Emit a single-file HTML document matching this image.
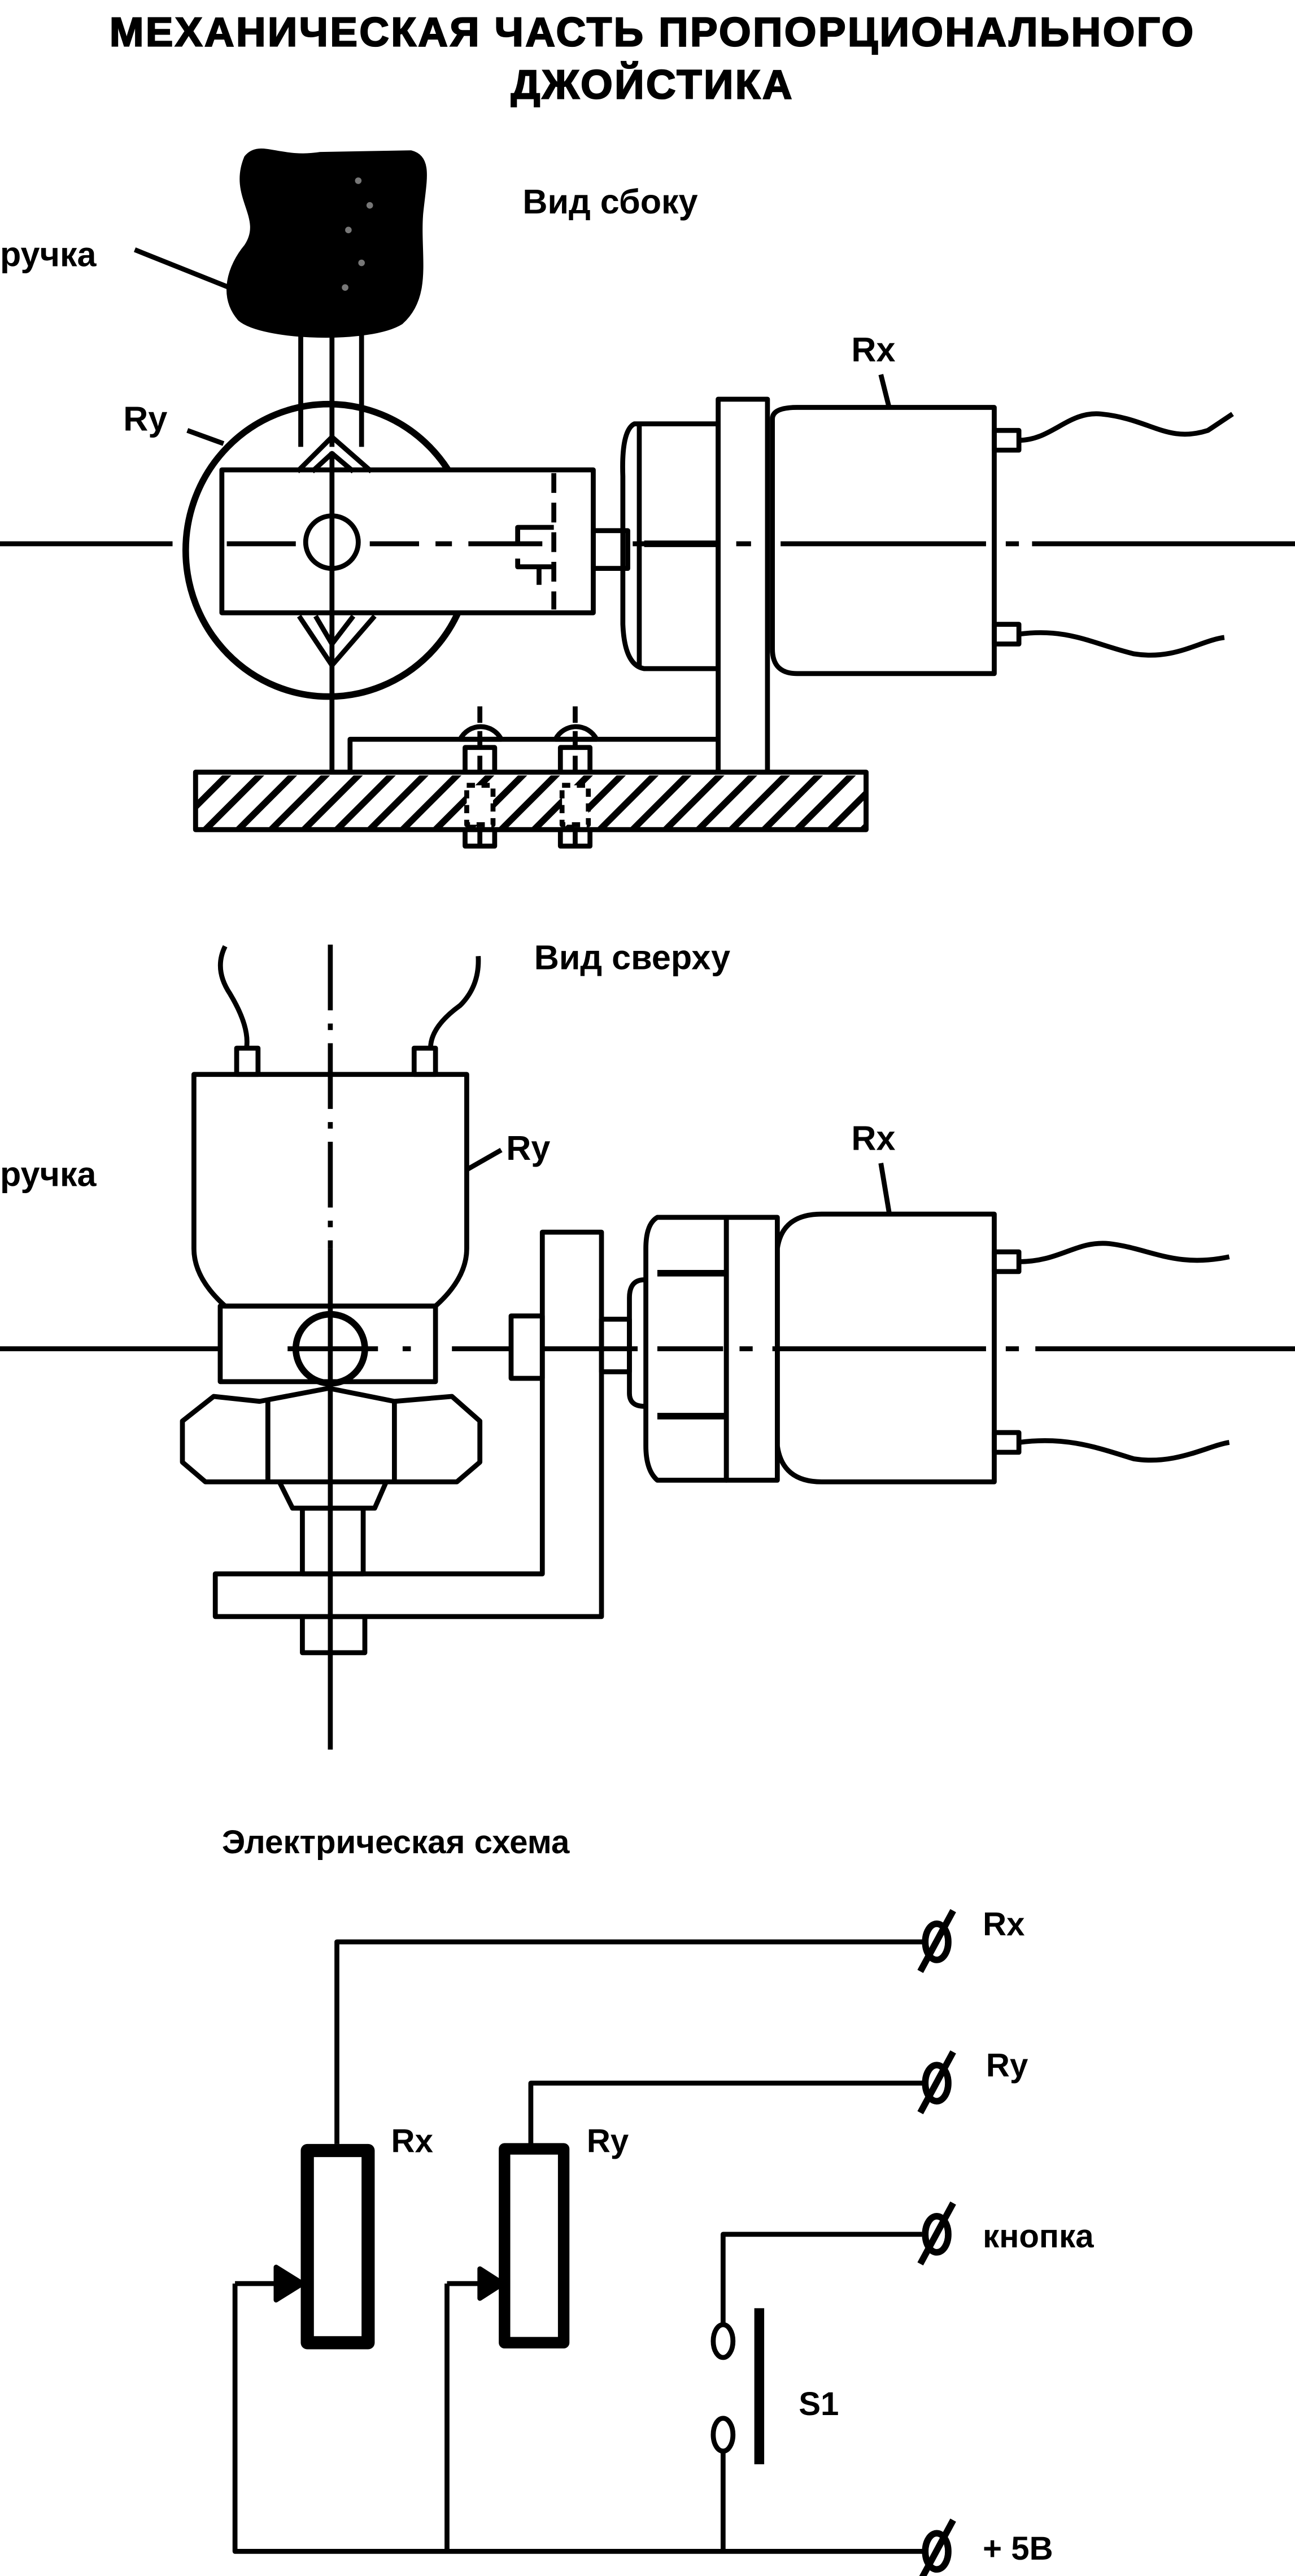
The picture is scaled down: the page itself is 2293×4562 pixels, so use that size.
<!DOCTYPE html>
<html><head><meta charset="utf-8"><style>
html,body{margin:0;padding:0;background:#fff;}
svg{display:block;}
text{font-family:"Liberation Sans","DejaVu Sans",sans-serif;font-weight:bold;fill:#000;}
</style></head><body>
<svg width="2293" height="4562" viewBox="0 0 788 1568" preserveAspectRatio="none" xmlns="http://www.w3.org/2000/svg">
<defs>
<clipPath id="base"><rect x="120" y="472" width="406" height="32"/></clipPath>
</defs>
<rect width="788" height="1568" fill="#fff"/>
<text x="397" y="28" font-size="25" letter-spacing="1.2" text-anchor="middle" stroke="#000" stroke-width="0.8">МЕХАНИЧЕСКАЯ ЧАСТЬ ПРОПОРЦИОНАЛЬНОГО</text>
<text x="397" y="60" font-size="25" letter-spacing="1.2" text-anchor="middle" stroke="#000" stroke-width="0.8">ДЖОЙСТИКА</text>

<g stroke="#000" stroke-width="3" fill="none" stroke-linejoin="round">
<!-- SIDE VIEW -->
<text x="318" y="130" font-size="21" stroke="none">Вид сбоку</text>
<text x="0" y="162" font-size="21" stroke="none">ручка</text>
<line x1="82" y1="152" x2="142" y2="176"/>
<path d="M150,96 C158,86 170,98 195,94 L250,93 C262,96 258,110 256,130 C254,155 262,180 244,196 C225,208 160,206 146,194 C134,180 140,162 150,150 C162,132 140,120 150,96 Z" fill="#000"/>
<circle cx="218" cy="110" r="2" fill="#777" stroke="none"/><circle cx="225" cy="125" r="2" fill="#777" stroke="none"/><circle cx="212" cy="140" r="2" fill="#777" stroke="none"/><circle cx="220" cy="160" r="2" fill="#777" stroke="none"/><circle cx="210" cy="175" r="2" fill="#777" stroke="none"/>
<line x1="183" y1="200" x2="183" y2="272"/><line x1="220" y1="200" x2="220" y2="272"/><line x1="202" y1="200" x2="202" y2="272"/>
<text x="75" y="262" font-size="21" stroke="none">Ry</text>
<line x1="114" y1="262" x2="136" y2="270"/>
<ellipse cx="200" cy="335" rx="87" ry="89" stroke-width="4"/>
<rect x="135" y="286" width="226" height="87" fill="#fff"/>
<line x1="337" y1="288" x2="337" y2="371" stroke-dasharray="12 6"/>
<path d="M181,287 L202,266 L226,287 M190,287 L202,276 L215,287"/>
<path d="M182,375 L202,405 L228,375 M192,375 L202,392 L215,375"/>
<line x1="202" y1="275" x2="202" y2="470"/>
<circle cx="202" cy="330" r="16"/>
<path d="M337,321 L315,321 L315,331 M337,345 L315,345 L315,340 M328,345 L328,356"/>
<rect x="361" y="323" width="21" height="23"/>
<path d="M386,258 Q378,262 379,290 L379,380 Q380,405 392,407 L437,407 L437,258 Z"/>
<path d="M389,258 L389,407"/>
<line x1="392" y1="331" x2="437" y2="331" stroke-width="4"/>
<rect x="437" y="243" width="30" height="227"/>
<path d="M470,255 Q470,248 485,248 L605,248 L605,410 L485,410 Q470,410 470,395 Z"/>
<text x="518" y="220" font-size="21" stroke="none">Rx</text>
<line x1="536" y1="228" x2="541" y2="248"/>
<rect x="605" y="262" width="15" height="12"/><rect x="605" y="380" width="15" height="12"/>
<path d="M620,268 C640,268 650,250 670,252 C700,255 710,270 735,262 L750,252"/>
<path d="M620,386 C650,382 665,392 690,398 C715,402 730,390 745,388"/>
<path d="M0,331 L105,331 M138,331 L180,331 M225,331 L255,331 M265,331 L275,331 M285,331 L330,331 M385,331 L437,331 M448,331 L457,331 M475,331 L600,331 M612,331 L620,331 M628,331 L788,331"/>
<path d="M213,470 L213,450 L437,450"/>
<path d="M280,450 A14,14 0 0 1 305,450 Z"/><path d="M338,450 A14,14 0 0 1 363,450 Z"/>
<line x1="292" y1="430" x2="292" y2="515" stroke-dasharray="10 5"/>
<line x1="350" y1="430" x2="350" y2="515" stroke-dasharray="10 5"/>
<rect x="283" y="455" width="18" height="60"/><rect x="341" y="455" width="18" height="60"/>
<rect x="119" y="470" width="408" height="35" fill="#fff"/>
<g clip-path="url(#base)" stroke-width="4">
<path d="M100,510 L145,465 M120,510 L165,465 M140,510 L185,465 M160,510 L205,465 M180,510 L225,465 M200,510 L245,465 M220,510 L265,465 M240,510 L285,465 M260,510 L305,465 M280,510 L325,465 M300,510 L345,465 M320,510 L365,465 M340,510 L385,465 M360,510 L405,465 M380,510 L425,465 M400,510 L445,465 M420,510 L465,465 M440,510 L485,465 M460,510 L505,465 M480,510 L525,465 M500,510 L545,465 M520,510 L565,465"/>
</g>
<rect x="119" y="470" width="408" height="35"/>
<rect x="284" y="478" width="16" height="24" fill="#fff" stroke-dasharray="5 4"/><rect x="342" y="478" width="16" height="24" fill="#fff" stroke-dasharray="5 4"/>

<!-- TOP VIEW -->
<text x="325" y="590" font-size="21" stroke="none">Вид сверху</text>
<text x="0" y="722" font-size="21" stroke="none">ручка</text>
<path d="M137,576 Q130,590 140,605 Q152,625 150,638"/>
<path d="M291,582 Q292,600 280,612 Q262,625 262,638"/>
<rect x="144" y="638" width="13" height="16"/><rect x="252" y="638" width="13" height="16"/>
<path d="M118,654 L284,654 L284,760 Q284,778 265,795 L137,795 Q118,778 118,760 Z"/>
<rect x="134" y="795" width="131" height="46"/>
<path d="M111,865 L130,850 L158,853 L200,845 L240,853 L275,850 L292,865 L292,890 L278,902 L125,902 L111,890 Z"/>
<line x1="163" y1="853" x2="163" y2="902"/><line x1="240" y1="853" x2="240" y2="902"/>
<path d="M170,902 L178,918 L228,918 L235,902"/>
<rect x="184" y="918" width="37" height="40"/>
<path d="M131,958 L330,958 L330,750 L366,750 L366,984 L131,984 Z"/>
<rect x="184" y="984" width="38" height="22"/>
<line x1="201" y1="575" x2="201" y2="760" stroke-dasharray="40 8 4 8"/>
<line x1="201" y1="760" x2="201" y2="1065"/>
<circle cx="201" cy="821" r="21" stroke-width="4"/>
<rect x="311" y="801" width="19" height="38"/><rect x="366" y="803" width="17" height="32"/>
<path d="M392,779 Q383,779 383,790 L383,848 Q383,856 392,856"/>
<path d="M400,741 L442,741 L442,901 L400,901 Q393,895 393,880 L393,760 Q393,745 400,741 Z"/>
<line x1="400" y1="775" x2="442" y2="775" stroke-width="4"/><line x1="400" y1="862" x2="442" y2="862" stroke-width="4"/>
<rect x="442" y="741" width="31" height="160"/>
<path d="M473,760 Q476,739 500,739 L605,739 L605,902 L500,902 Q476,902 473,880 Z"/>
<rect x="605" y="762" width="15" height="12"/><rect x="605" y="872" width="15" height="12"/>
<path d="M620,768 C645,768 655,755 675,757 C700,760 715,772 748,765"/>
<path d="M620,878 C650,874 670,882 690,888 C715,892 735,880 748,878"/>
<text x="308" y="706" font-size="21" stroke="none">Ry</text>
<line x1="284" y1="712" x2="305" y2="700"/>
<text x="518" y="700" font-size="21" stroke="none">Rx</text>
<line x1="536" y1="708" x2="541" y2="738"/>
<path d="M0,821 L134,821 M175,821 L230,821 M245,821 L250,821 M275,821 L311,821 M330,821 L388,821 M400,821 L440,821 M450,821 L458,821 M470,821 L600,821 M612,821 L620,821 M630,821 L788,821"/>

<!-- ELECTRICAL -->
<text x="135" y="1128" font-size="20" stroke="none">Электрическая схема</text>
<path d="M205,1305 L205,1182 L562,1182"/>
<path d="M323,1305 L323,1268 L562,1268"/>
<path d="M561,1360 L440,1360 L440,1415"/>
<path d="M440,1492 L440,1553"/>
<path d="M143,1390 L143,1553 L562,1553"/>
<path d="M272,1390 L272,1553"/>
<path d="M143,1390 L168,1390"/><path d="M272,1390 L292,1390"/>
<path d="M168,1380 L184,1390 L168,1400 Z" fill="#000"/>
<path d="M292,1381 L306,1390 L292,1399 Z" fill="#000"/>
<rect x="187" y="1309" width="37" height="117" stroke-width="8"/>
<rect x="307" y="1308" width="36" height="118" stroke-width="7"/>
<ellipse cx="440" cy="1425" rx="6" ry="10"/><ellipse cx="440" cy="1482" rx="6" ry="10"/>
<line x1="462" y1="1405" x2="462" y2="1500" stroke-width="6"/>
<g stroke-width="4">
<ellipse cx="570" cy="1182" rx="7" ry="11"/><line x1="560" y1="1200" x2="580" y2="1163"/>
<ellipse cx="570" cy="1268" rx="7" ry="11"/><line x1="560" y1="1286" x2="580" y2="1249"/>
<ellipse cx="570" cy="1360" rx="7" ry="11"/><line x1="560" y1="1378" x2="580" y2="1341"/>
<ellipse cx="570" cy="1553" rx="7" ry="11"/><line x1="560" y1="1571" x2="580" y2="1534"/>
</g>
<text x="598" y="1178" font-size="20" stroke="none">Rx</text>
<text x="600" y="1264" font-size="20" stroke="none">Ry</text>
<text x="598" y="1368" font-size="20" stroke="none">кнопка</text>
<text x="598" y="1558" font-size="20" stroke="none">+ 5В</text>
<text x="238" y="1310" font-size="20" stroke="none">Rx</text>
<text x="357" y="1310" font-size="20" stroke="none">Ry</text>
<text x="486" y="1470" font-size="20" stroke="none">S1</text>
</g>
</svg>
</body></html>
